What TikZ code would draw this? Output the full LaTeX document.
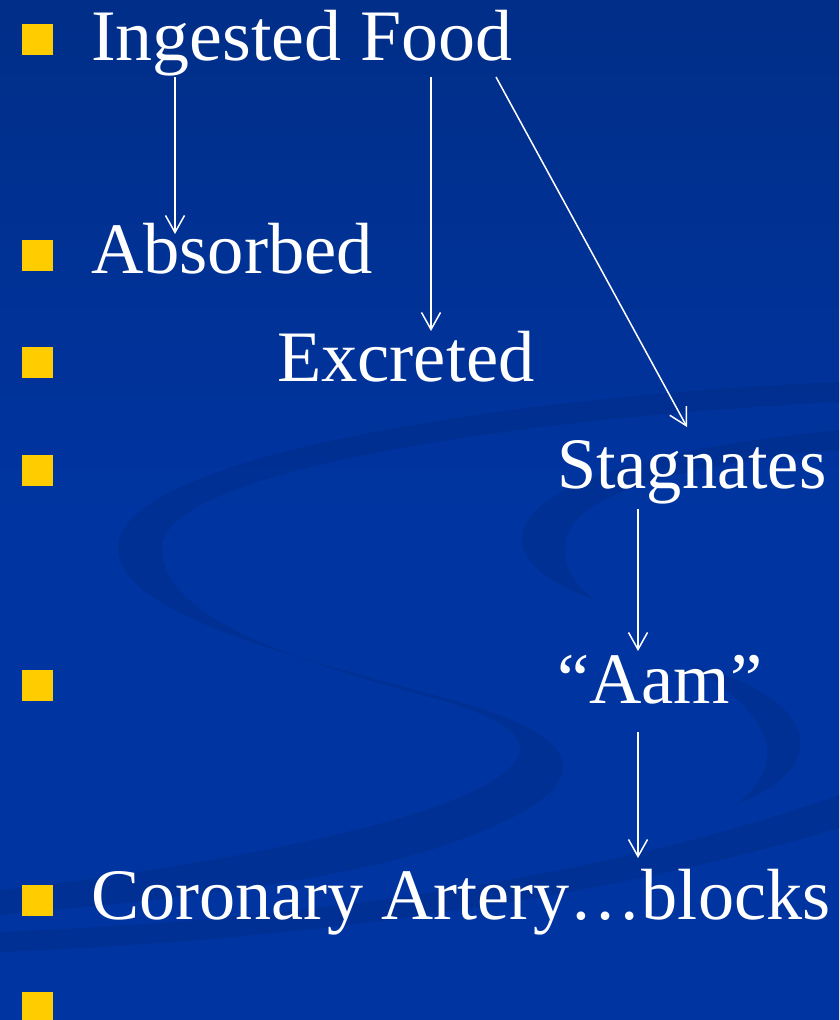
\documentclass[tikz,border=0pt]{standalone}
\usepackage{fontspec}
\usepackage{graphicx}
\setmainfont{Liberation Serif}
\usetikzlibrary{arrows.meta}
\definecolor{bgblue}{HTML}{0034A0}
\definecolor{bgtop}{HTML}{002E88}
\definecolor{swooshblue}{HTML}{002C86}
\definecolor{bulletyellow}{HTML}{FFCC00}
\begin{document}
\begin{tikzpicture}[x=1pt,y=-1pt,
  slidetext/.style={anchor=base west, inner sep=0pt, outer sep=0pt, text=white,
    font=\fontsize{72.5}{80}\selectfont},
  bulletbox/.style={fill=bulletyellow, draw=none, inner sep=0pt, outer sep=0pt,
    minimum size=31pt, anchor=north west},
  flowarrow/.style={draw=white, line width=1.5pt,
    -{Straight Barb[length=17pt,width=19pt,line width=1.5pt]}},
  swoosh/.style={fill=swooshblue, fill opacity=0.45, draw=none}]
\useasboundingbox (0,0) rectangle (839,1020);
% background
\shade[top color=bgtop, bottom color=bgblue, middle color=bgblue] (0,0) rectangle (839,1020);
% decorative swooshes
\path[swoosh] (839,382) .. controls (520,395) and (118,455) .. (118,548)
  .. controls (118,620) and (330,665) .. (470,705)
  .. controls (600,745) and (600,795) .. (430,850)
  .. controls (300,890) and (100,905) .. (0,915)
  -- (0,890)
  .. controls (100,880) and (300,850) .. (420,812)
  .. controls (560,765) and (540,728) .. (440,700)
  .. controls (300,662) and (162,620) .. (162,548)
  .. controls (162,470) and (520,418) .. (839,402) -- cycle;
\path[swoosh] (839,430) .. controls (680,445) and (522,480) .. (522,540)
  .. controls (522,565) and (555,585) .. (595,600)
  .. controls (570,582) and (562,562) .. (566,540)
  .. controls (575,490) and (700,462) .. (839,450) -- cycle;
\path[swoosh] (690,665) .. controls (800,690) and (850,760) .. (735,805)
  .. controls (790,765) and (775,715) .. (690,665) -- cycle;
\path[swoosh] (839,795) .. controls (600,880) and (300,920) .. (0,932)
  -- (0,952) .. controls (300,940) and (600,900) .. (839,828) -- cycle;
% bullets
\node[bulletbox] (b1) at (22,24) {};
\node[bulletbox] (b2) at (22,240) {};
\node[bulletbox] (b3) at (22,347) {};
\node[bulletbox] (b4) at (22,455) {};
\node[bulletbox] (b5) at (22,670) {};
\node[bulletbox] (b6) at (22,885) {};
\node[bulletbox] (b7) at (22,992) {};
% texts
\node[slidetext] (ingested) at (91,60) {\scalebox{1.02}[1]{Ingested Food}};
\node[slidetext] (absorbed) at (91,273) {Absorbed};
\node[slidetext] (excreted) at (277,381) {Excreted};
\node[slidetext] (stagnates) at (557,488) {\scalebox{0.97}[1]{Stagnates}};
\node[slidetext] (aam) at (557,703) {“Aam”};
\node[slidetext] (coronary) at (91,919) {\scalebox{0.995}[1]{Coronary Artery…blocks}};
% arrow anchors
\coordinate (ingA) at (175,77);
\coordinate (ingB) at (431,77);
\coordinate (ingC) at (496,77);
\coordinate (absTop) at (175,234);
\coordinate (excTop) at (431,331);
\coordinate (stgTop) at (687,427);
\coordinate (stgBot) at (638,509);
\coordinate (aamTop) at (638,651);
\coordinate (aamBot) at (638,732);
\coordinate (corTop) at (638,858);
% arrows
\draw[flowarrow] (ingA) -- (absTop);
\draw[flowarrow] (ingB) -- (excTop);
\draw[flowarrow] (ingC) -- (stgTop);
\draw[flowarrow] (stgBot) -- (aamTop);
\draw[flowarrow] (aamBot) -- (corTop);
\end{tikzpicture}
\end{document}
